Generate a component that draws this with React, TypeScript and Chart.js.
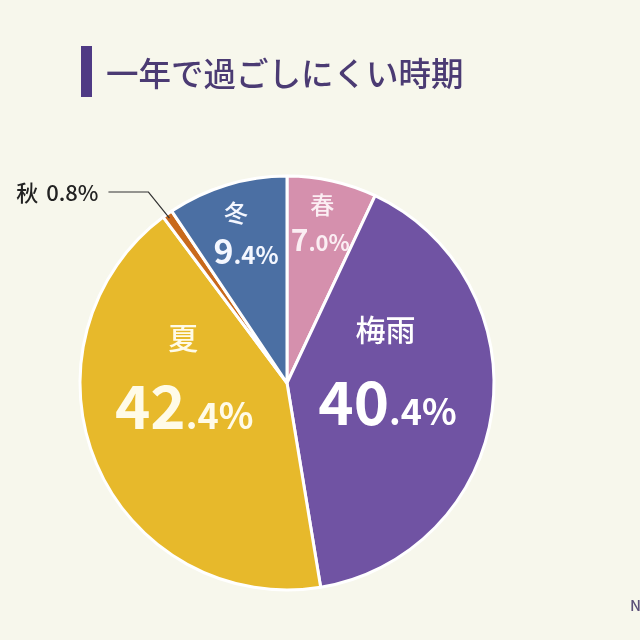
import React, { useEffect, useRef } from "react";
import { Chart, registerables } from "chart.js";

Chart.register(...registerables);

// Seasons that are hardest to get through, share of respondents (%)
const seasons = ["春", "梅雨", "夏", "秋", "冬"];
const shares = [7.0, 40.4, 42.4, 0.8, 9.4];
const sliceColors = ["#d590ad", "#7053a3", "#e7b92b", "#c8691c", "#4b6fa3"];
const titleText = "一年で過ごしにくい時期";

const BG = "#f7f7ec";
const FONT = '"Noto Sans CJK JP", "Noto Sans", sans-serif';

type LabelStyle = {
  r: number; // anchor distance from center, fraction of radius
  nameSize: number;
  bigSize: number;
  smallSize: number;
  color: string;
  nameDx: number;
  nameDy: number;
  valueDx: number;
  valueDy: number;
};

const labelStyles: Record<string, LabelStyle> = {
  春: { r: 0.78, nameSize: 24, bigSize: 30, smallSize: 22, color: "#fbeef3", nameDx: 0, nameDy: -21, valueDx: -2, valueDy: 15 },
  梅雨: { r: 0.49, nameSize: 30, bigSize: 60, smallSize: 36, color: "#ffffff", nameDx: -2, nameDy: -67, valueDx: 0, valueDy: 6 },
  夏: { r: 0.54, nameSize: 30, bigSize: 60, smallSize: 36, color: "#fffbe8", nameDx: -1, nameDy: -89, valueDx: 0, valueDy: -19 },
  冬: { r: 0.78, nameSize: 24, bigSize: 34, smallSize: 24, color: "#f4f7ff", nameDx: -4, nameDy: -16, valueDx: 6, valueDy: 23 },
};

function splitValue(v: number): [string, string] {
  const s = v.toFixed(1);
  const i = s.indexOf(".");
  return [s.slice(0, i), s.slice(i) + "%"];
}

const labelPlugin = {
  id: "sliceLabels",
  afterDatasetsDraw(chart: any) {
    const ctx: CanvasRenderingContext2D = chart.ctx;
    const meta = chart.getDatasetMeta(0);
    ctx.save();
    meta.data.forEach((arc: any, i: number) => {
      const name = seasons[i];
      const st = labelStyles[name];
      const { x, y, startAngle, endAngle, outerRadius } = arc.getProps(
        ["x", "y", "startAngle", "endAngle", "outerRadius"],
        true
      );
      const mid = (startAngle + endAngle) / 2;
      if (!st) {
        // thin slice: outside label with a leader line
        const ex = x + Math.cos(mid) * outerRadius;
        const ey = y + Math.sin(mid) * outerRadius;
        ctx.strokeStyle = "#333333";
        ctx.lineWidth = 1.2;
        ctx.beginPath();
        ctx.moveTo(ex + 2, ey + 4);
        ctx.lineTo(ex - 19, ey - 22);
        ctx.lineTo(ex - 59, ey - 22);
        ctx.stroke();
        ctx.fillStyle = "#222222";
        ctx.textBaseline = "middle";
        ctx.textAlign = "right";
        ctx.font = `500 22px ${FONT}`;
        const value = `${shares[i].toFixed(1)}%`;
        const right = ex - 69;
        ctx.fillText(value, right, ey - 21);
        const wv = ctx.measureText(value).width;
        ctx.fillText(name, right - wv - 8, ey - 21);
        return;
      }
      const cx = x + Math.cos(mid) * outerRadius * st.r;
      const cy = y + Math.sin(mid) * outerRadius * st.r;
      ctx.fillStyle = st.color;
      ctx.textAlign = "center";
      ctx.font = `500 ${st.nameSize}px ${FONT}`;
      ctx.textBaseline = "middle";
      ctx.fillText(name, cx + st.nameDx, cy + st.nameDy);
      const [big, small] = splitValue(shares[i]);
      ctx.textBaseline = "alphabetic";
      ctx.font = `700 ${st.bigSize}px ${FONT}`;
      const wb = ctx.measureText(big).width;
      ctx.font = `700 ${st.smallSize}px ${FONT}`;
      const ws = ctx.measureText(small).width;
      const left = cx + st.valueDx - (wb + ws) / 2;
      const base = cy + st.valueDy + st.bigSize * 0.36;
      ctx.textAlign = "left";
      ctx.font = `700 ${st.bigSize}px ${FONT}`;
      ctx.fillText(big, left, base);
      ctx.font = `700 ${st.smallSize}px ${FONT}`;
      ctx.fillText(small, left + wb, base);
    });
    ctx.restore();
  },
};

const titlePlugin = {
  id: "titleBar",
  beforeDraw(chart: any) {
    const ctx: CanvasRenderingContext2D = chart.ctx;
    ctx.save();
    ctx.fillStyle = BG;
    ctx.fillRect(0, 0, chart.width, chart.height);
    ctx.fillStyle = "#4f3a84";
    ctx.fillRect(81, 46, 11, 51);
    ctx.fillStyle = "#4b3b73";
    ctx.font = `500 32.5px ${FONT}`;
    ctx.textAlign = "left";
    ctx.textBaseline = "middle";
    ctx.fillText(titleText, 106, 74);
    ctx.restore();
  },
};

export default function App() {
  const ref = useRef<HTMLCanvasElement | null>(null);

  useEffect(() => {
    if (!ref.current) return;
    const chart = new Chart(ref.current, {
      type: "pie",
      data: {
        labels: seasons,
        datasets: [
          {
            data: shares,
            backgroundColor: sliceColors,
            borderColor: "#ffffff",
            borderWidth: 3,
          },
        ],
      },
      options: {
        responsive: false,
        animation: false,
        radius: 207,
        layout: { padding: { left: 60, right: 126, top: 150, bottom: 24 } },
        plugins: {
          legend: { display: false },
          tooltip: { enabled: false },
        },
      } as any,
      plugins: [titlePlugin, labelPlugin],
    });
    return () => chart.destroy();
  }, []);

  return (
    <div style={{ position: "fixed", left: 0, top: 0, width: 640, height: 640, background: BG }}>
      <canvas ref={ref} width={640} height={640} style={{ display: "block" }} />
      <span
        style={{
          position: "absolute",
          left: 630,
          top: 594,
          font: `500 15px ${FONT}`,
          color: "#5b4f78",
        }}
      >
        N
      </span>
    </div>
  );
}
